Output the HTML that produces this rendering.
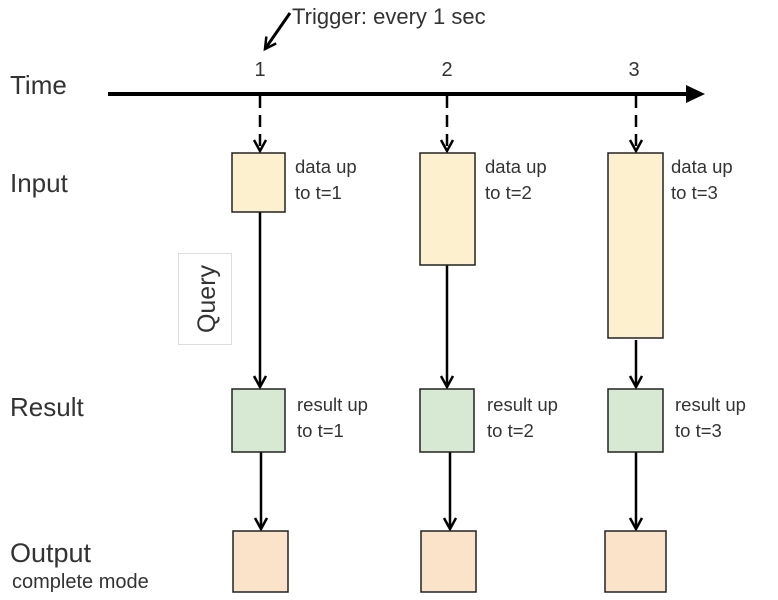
<!DOCTYPE html>
<html><head><style>
html,body{margin:0;padding:0;background:#fff;}
svg{display:block;}
text{font-family:"Liberation Sans",sans-serif;fill:#333;}
</style></head><body>
<svg width="778" height="600" viewBox="0 0 778 600" xmlns="http://www.w3.org/2000/svg">
<defs>
<marker id="a" markerWidth="16" markerHeight="16" refX="12" refY="7" orient="auto" markerUnits="userSpaceOnUse">
<path d="M1,1 L12,7 L1,13" fill="none" stroke="#000" stroke-width="2.5"/>
</marker>
</defs>
<!-- labels -->
<text x="10" y="94" font-size="26">Time</text>
<text x="10" y="192" font-size="26">Input</text>
<text x="10" y="416" font-size="26">Result</text>
<text x="10" y="562" font-size="27">Output</text>
<text x="12" y="588" font-size="20">complete mode</text>
<!-- trigger -->
<text x="292" y="24" font-size="22">Trigger: every 1 sec</text>
<line x1="290" y1="13" x2="265" y2="49" stroke="#000" stroke-width="3" marker-end="url(#a)"/>
<text x="260" y="76" font-size="20" text-anchor="middle">1</text>
<text x="447" y="76" font-size="20" text-anchor="middle">2</text>
<text x="634" y="76" font-size="20" text-anchor="middle">3</text>
<!-- axis -->
<line x1="108" y1="94" x2="688" y2="94" stroke="#000" stroke-width="4"/>
<polygon points="686,85 705,94 686,103" fill="#000"/>
<!-- arrows -->
<g stroke="#000" stroke-width="2.5" fill="none">
<line x1="260" y1="96" x2="260" y2="151" stroke-dasharray="12,7" marker-end="url(#a)"/>
<line x1="447" y1="96" x2="447" y2="151" stroke-dasharray="12,7" marker-end="url(#a)"/>
<line x1="636" y1="96" x2="636" y2="151" stroke-dasharray="12,7" marker-end="url(#a)"/>
<line x1="260" y1="212" x2="260" y2="387" marker-end="url(#a)"/>
<line x1="447" y1="265" x2="447" y2="387" marker-end="url(#a)"/>
<line x1="636" y1="340" x2="636" y2="387" marker-end="url(#a)"/>
<line x1="261" y1="452" x2="261" y2="529" marker-end="url(#a)"/>
<line x1="450" y1="452" x2="450" y2="529" marker-end="url(#a)"/>
<line x1="636" y1="452" x2="636" y2="529" marker-end="url(#a)"/>
</g>
<!-- boxes -->
<g stroke="#222" stroke-width="1.5">
<rect x="232" y="153" width="53" height="59" fill="#fdf0cf"/>
<rect x="420" y="153" width="55" height="112" fill="#fdf0cf"/>
<rect x="608" y="153" width="55" height="185" fill="#fdf0cf"/>
<rect x="232" y="389" width="53" height="63" fill="#d7e8d3"/>
<rect x="420" y="389" width="54" height="63" fill="#d7e8d3"/>
<rect x="608" y="389" width="55" height="63" fill="#d7e8d3"/>
<rect x="233" y="531" width="55" height="61" fill="#fbe3c9"/>
<rect x="421" y="531" width="55" height="61" fill="#fbe3c9"/>
<rect x="605" y="531" width="61" height="61" fill="#fbe3c9"/>
</g>
<rect x="178.5" y="253.5" width="53" height="91" fill="#fff" stroke="#ddd" stroke-width="1"/>
<text transform="translate(215,299) rotate(-90)" font-size="25" text-anchor="middle">Query</text>
<g font-size="18.5">
<text x="295" y="173">data up</text><text x="295" y="199">to t=1</text>
<text x="485" y="173">data up</text><text x="485" y="199">to t=2</text>
<text x="671" y="173">data up</text><text x="671" y="199">to t=3</text>
<text x="297" y="411">result up</text><text x="297" y="437">to t=1</text>
<text x="487" y="411">result up</text><text x="487" y="437">to t=2</text>
<text x="675" y="411">result up</text><text x="675" y="437">to t=3</text>
</g>
</svg>
</body></html>
